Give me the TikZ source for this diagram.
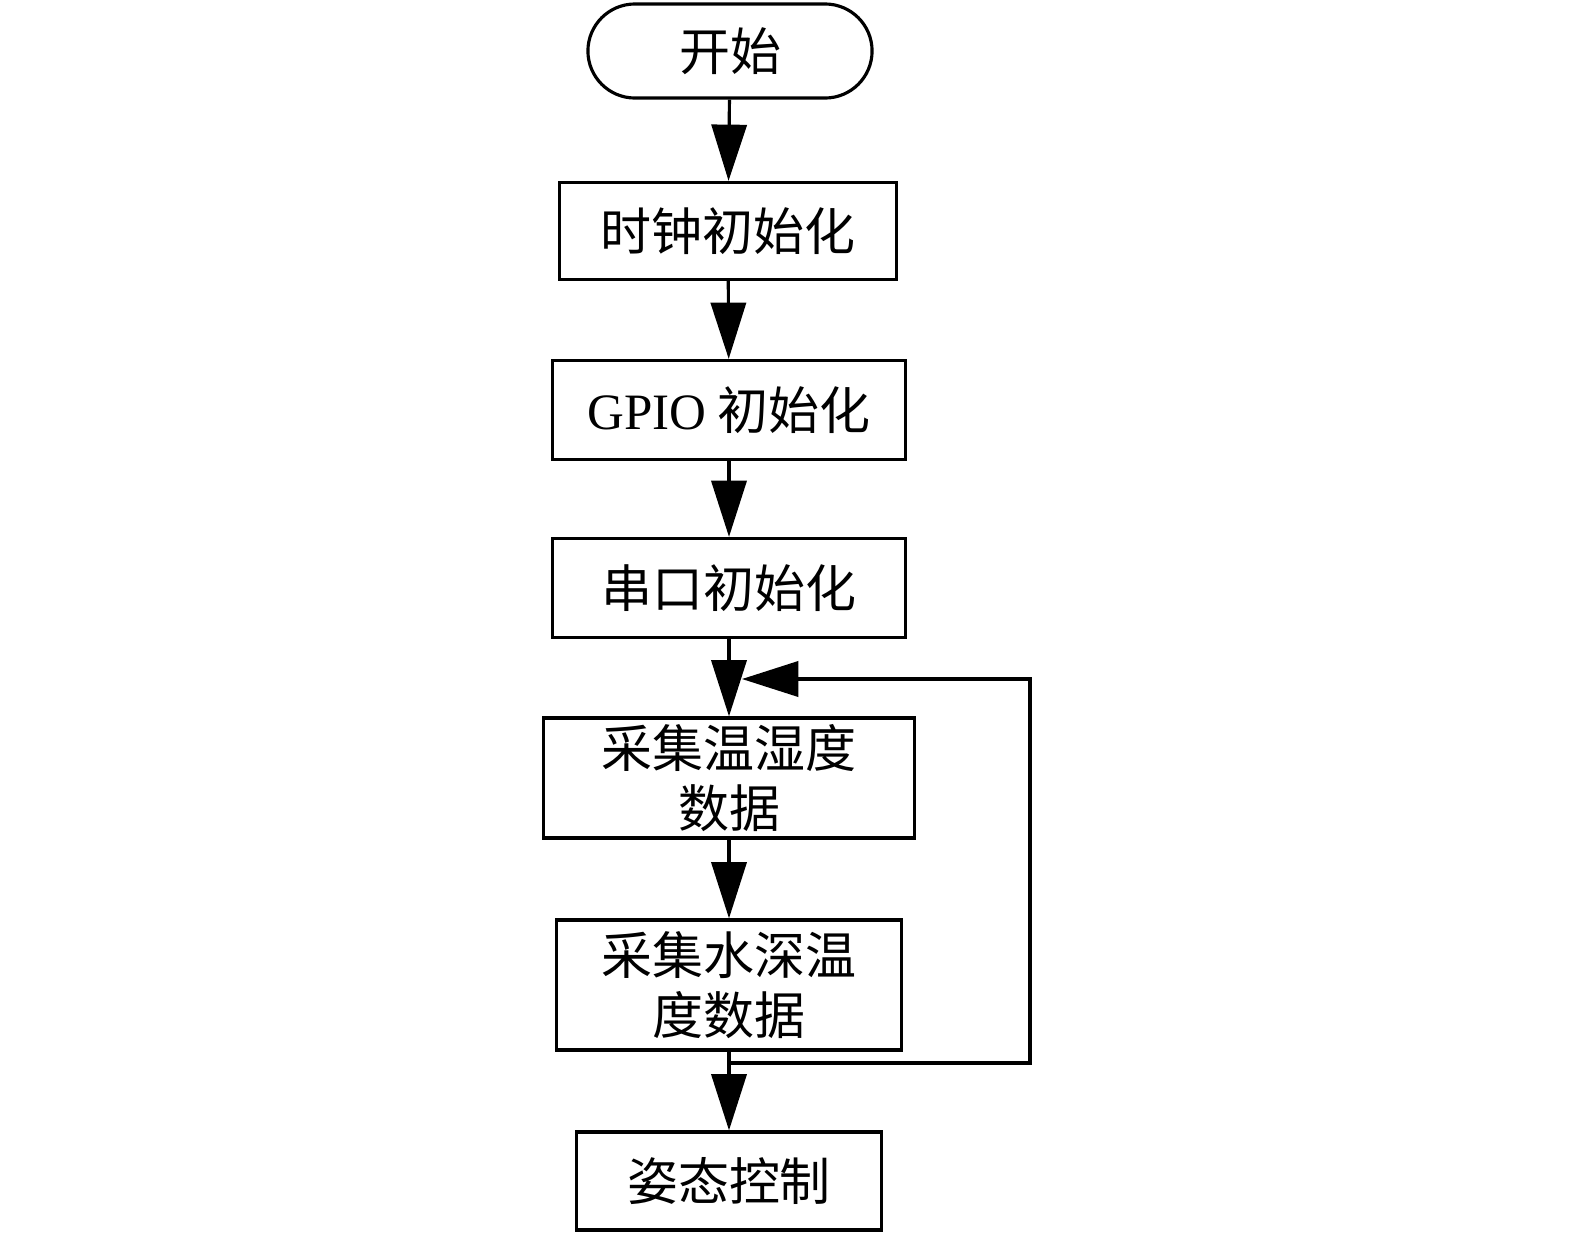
\documentclass[tikz,border=0pt]{standalone}
\usepackage{fontspec}
\setmainfont{Liberation Serif}
\newfontfamily\cjk{Noto Sans CJK SC}
\usetikzlibrary{arrows.meta}
\tikzset{
  box/.style={draw,line width=0.9pt,inner sep=0pt,align=center,
    font=\fontsize{14.5}{17}\selectfont\cjk},
  term/.style={box,rounded corners=0.47cm},
  flow/.style={line width=0.9pt,-{Triangle[length=16pt,width=10pt]}}
}
\begin{document}
\begin{tikzpicture}[x=0.01cm,y=-0.01cm]
\useasboundingbox (0,0) rectangle (1575,1233);
\node[term,minimum width=2.84cm,minimum height=0.94cm] (start) at (730,51) {开始};
\node[box,minimum width=3.37cm,minimum height=0.97cm] (clk) at (728,231) {时钟初始化};
\node[box,minimum width=3.52cm,minimum height=0.99cm] (gpio) at (729,410) {{\rmfamily GPIO} 初始化};
\node[box,minimum width=3.52cm,minimum height=0.99cm] (uart) at (729,588) {串口初始化};
\node[box,minimum width=3.71cm,minimum height=1.20cm] (th) at (729,778) {采集温湿度\\数据};
\node[box,minimum width=3.45cm,minimum height=1.30cm] (depth) at (729,985) {采集水深温\\度数据};
\node[box,minimum width=3.05cm,minimum height=0.98cm] (ctrl) at (729,1181) {姿态控制};
\coordinate (loopa) at (1030,1063);
\coordinate (loopb) at (1030,679);
\coordinate (loopc) at (742,679);
\draw[flow] (start) -- (clk);
\draw[flow] (clk) -- (gpio);
\draw[flow] (gpio) -- (uart);
\draw[flow] (uart) -- (th);
\draw[flow] (th) -- (depth);
\draw[flow] (depth) -- (ctrl);
\draw[flow] (depth.south) -- (depth.south |- loopa) -- (loopa) -- (loopb) -- (loopc);
\end{tikzpicture}
\end{document}
